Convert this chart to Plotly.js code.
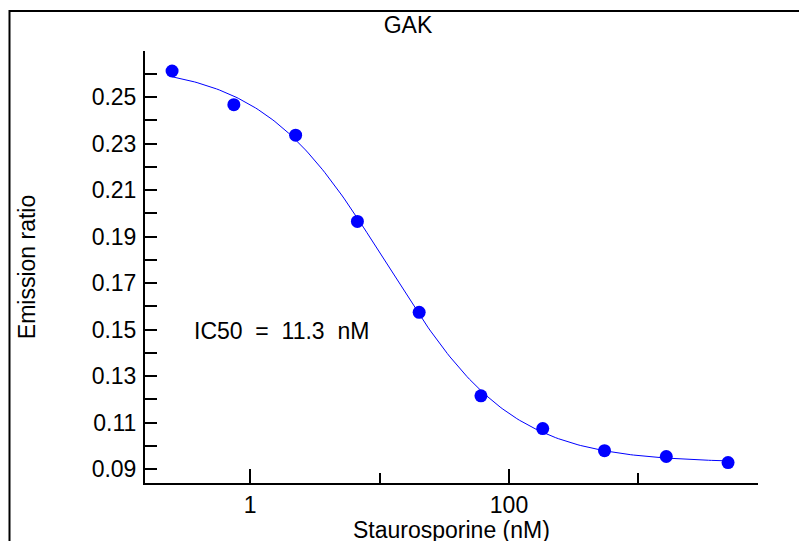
<!DOCTYPE html>
<html>
<head>
<meta charset="utf-8">
<script src="https://cdn.plot.ly/plotly-3.0.1.min.js"></script>
<style>html,body{margin:0;padding:0;background:#fff;}#chart{width:799px;height:541px;}</style>
</head>
<body>
<div id="chart"></div>
<script>
// Concentrations of staurosporine (nM), 3-fold dilution series
const concentrations = [0.25, 0.75, 2.25, 6.75, 20.25, 60.75, 182.25, 546.75, 1640.25, 4920.75];
// Measured emission ratios
const emissionRatio = [0.2612, 0.2467, 0.2336, 0.1965, 0.1574, 0.1215, 0.1074, 0.0979, 0.0954, 0.0928];
// Fitted 4-parameter logistic (dose-response) parameters
const fitTop = 0.2641;
const fitBottom = 0.0928;
const fitIC50 = 11.3;
const fitHill = 0.9;
// Tick labels
const yTickVals = [0.09, 0.10, 0.11, 0.12, 0.13, 0.14, 0.15, 0.16, 0.17, 0.18, 0.19, 0.20, 0.21, 0.22, 0.23, 0.24, 0.25, 0.26];
const yTickText = ['0.09', '', '0.11', '', '0.13', '', '0.15', '', '0.17', '', '0.19', '', '0.21', '', '0.23', '', '0.25', ''];
const xTickVals = [1, 100];
const xTickText = ['1', '100'];
const xMinorTickVals = [10, 1000];
const xTitle = 'Staurosporine (nM)';
const yTitle = 'Emission ratio';

// Fitted curve sampled over the concentration range on a log grid
const curveX = [], curveY = [];
const lo = Math.log10(concentrations[0]), hi = Math.log10(concentrations[concentrations.length - 1]);
const nSamples = 200;
for (let i = 0; i <= nSamples; i++) {
  const x = Math.pow(10, lo + (hi - lo) * i / nSamples);
  curveX.push(x);
  curveY.push(fitBottom + (fitTop - fitBottom) / (1 + Math.pow(x / fitIC50, fitHill)));
}

const FONT = 'Arial, "Liberation Sans", sans-serif';
const FS = 23;
const W = 799, H = 541;
const L = 145, R = 758, T = 51, B = 483;
const px = v => (v - L) / (R - L);
const py = v => (B - v) / (B - T);

const traces = [
  {x: curveX, y: curveY, type: 'scatter', mode: 'lines', line: {color: '#0000FF', width: 1}, hoverinfo: 'skip', showlegend: false},
  {x: concentrations, y: emissionRatio, type: 'scatter', mode: 'markers', marker: {color: '#0000FF', size: 13}, showlegend: false}
];

const layout = {
  width: W, height: H,
  margin: {l: L, r: W - R, t: T, b: H - B, pad: 0},
  paper_bgcolor: '#fff', plot_bgcolor: '#fff',
  font: {family: FONT, size: FS, color: '#000'},
  showlegend: false,
  xaxis: {
    type: 'log',
    range: [Math.log10(0.1545), Math.log10(8380)],
    tickmode: 'array', tickvals: xTickVals, ticktext: xTickText,
    ticks: 'inside', ticklen: 14, tickwidth: 2, tickcolor: '#000',
    minor: {tickmode: 'array', tickvals: xMinorTickVals, ticks: 'inside', ticklen: 10, tickwidth: 2, tickcolor: '#000', showgrid: false},
    showline: true, linecolor: '#000', linewidth: 2,
    showgrid: false, zeroline: false,
    tickfont: {family: FONT, size: FS, color: '#000'},
    ticklabelstandoff: 0,
    fixedrange: true
  },
  yaxis: {
    range: [0.084, 0.2698],
    tickmode: 'array', tickvals: yTickVals, ticktext: yTickText,
    ticks: 'inside', ticklen: 12, tickwidth: 2, tickcolor: '#000',
    showline: true, linecolor: '#000', linewidth: 2,
    showgrid: false, zeroline: false,
    tickfont: {family: FONT, size: FS, color: '#000'},
    ticklabelstandoff: 2,
    title: {text: yTitle, font: {family: FONT, size: FS, color: '#000'}, standoff: 50},
    fixedrange: true
  },
  title: {
    text: 'GAK', font: {family: FONT, size: FS, color: '#000'},
    x: 408 / W, xanchor: 'center', xref: 'container', y: 1 - 25 / H, yanchor: 'middle', yref: 'container'
  },
  annotations: [
    {text: 'IC50  =  11.3  nM', xref: 'paper', yref: 'paper', x: px(192), y: py(331), xanchor: 'left', yanchor: 'middle', showarrow: false, font: {family: FONT, size: FS, color: '#000'}},
    {text: xTitle, xref: 'paper', yref: 'paper', x: px(451), y: py(516), xanchor: 'center', yanchor: 'top', showarrow: false, borderpad: 0, font: {family: FONT, size: FS, color: '#000'}}
  ],
  shapes: [
    {type: 'rect', xref: 'paper', yref: 'paper', x0: px(9.5), y0: py(600), x1: px(860), y1: py(11), line: {color: '#000', width: 2}, fillcolor: 'rgba(0,0,0,0)', layer: 'below'}
  ]
};

Plotly.newPlot('chart', traces, layout, {displayModeBar: false, staticPlot: true});
</script>
</body>
</html>
